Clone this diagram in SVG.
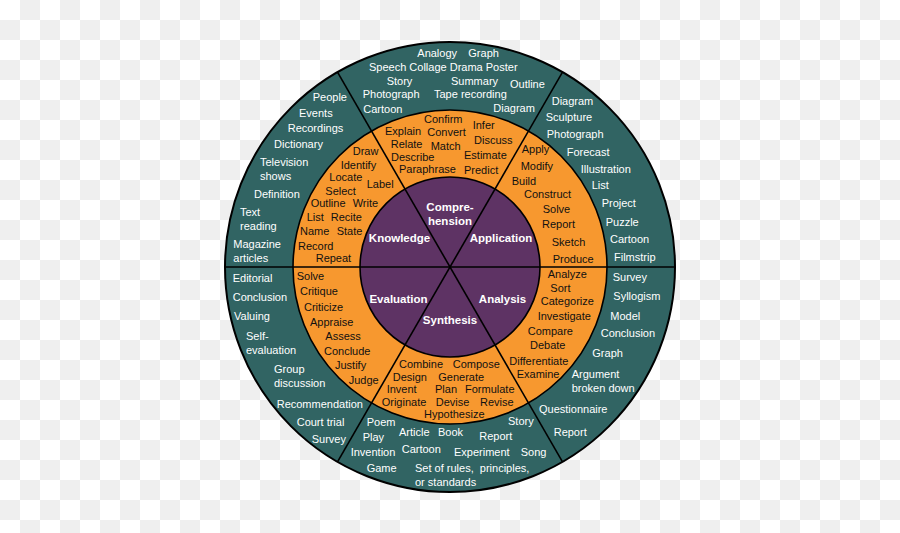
<svg xmlns="http://www.w3.org/2000/svg" width="900" height="533" viewBox="0 0 900 533">
<defs>
<pattern id="chk" width="40" height="40" patternUnits="userSpaceOnUse">
<rect width="40" height="40" fill="#ffffff"/>
<rect x="20" y="0" width="20" height="20" fill="#efefef"/>
<rect x="0" y="20" width="20" height="20" fill="#efefef"/>
</pattern>
<style>
text{font-family:"Liberation Sans",Arial,sans-serif;font-size:11px}
.w{fill:#ffffff}
.b{fill:#111111}
.h{fill:#ffffff;font-weight:bold;font-size:11.5px;text-anchor:middle}
.ln{stroke:#000;stroke-width:1.6;fill:none}
</style>
</defs>
<rect width="900" height="533" fill="url(#chk)"/>
<g id="rings">
<circle cx="450" cy="267" r="225" fill="#316463" stroke="#000" stroke-width="2"/>
<circle cx="450" cy="267" r="157" fill="#f7982f" stroke="#000" stroke-width="1.6"/>
<circle cx="450" cy="267" r="90" fill="#5e3364" stroke="#000" stroke-width="1.6"/>
</g>
<g id="connectors">
<line class="ln" x1="225" y1="267" x2="675" y2="267"/>
<line class="ln" x1="337.5" y1="72.1" x2="562.5" y2="461.9"/>
<line class="ln" x1="562.5" y1="72.1" x2="337.5" y2="461.9"/>
</g>
<g id="knowledge">
<text class="h" x="399.5" y="242">Knowledge</text>
<g class="b">
<text class="b" x="352.7" y="155">Draw</text>
<text class="b" x="340.7" y="169">Identify</text>
<text class="b" x="329.3" y="181">Locate</text>
<text class="b" x="366.7" y="188">Label</text>
<text class="b" x="325.3" y="195">Select</text>
<text class="b" x="310.7" y="207">Outline</text>
<text class="b" x="352.7" y="207">Write</text>
<text class="b" x="306.7" y="221">List</text>
<text class="b" x="330.7" y="221">Recite</text>
<text class="b" x="300" y="235">Name</text>
<text class="b" x="336.7" y="235">State</text>
<text class="b" x="298" y="250">Record</text>
<text class="b" x="315.7" y="262">Repeat</text>
</g>
<text class="w" x="312.7" y="101">People</text>
<text class="w" x="299" y="117">Events</text>
<text class="w" x="287.7" y="132">Recordings</text>
<text class="w" x="274" y="148">Dictionary</text>
<text class="w" x="260" y="166">Television</text>
<text class="w" x="260" y="180">shows</text>
<text class="w" x="254" y="198">Definition</text>
<text class="w" x="240" y="216">Text</text>
<text class="w" x="240" y="230">reading</text>
<text class="w" x="233.3" y="248">Magazine</text>
<text class="w" x="233.3" y="262">articles</text>
</g>
<g id="comprehension">
<text class="h" x="450" y="211">Compre-</text>
<text class="h" x="450" y="225">hension</text>
<text class="b" x="385" y="135">Explain</text>
<text class="b" x="390.7" y="148">Relate</text>
<text class="b" x="391" y="161">Describe</text>
<text class="b" x="399" y="173">Paraphrase</text>
<text class="b" x="424" y="123">Confirm</text>
<text class="b" x="427.3" y="136">Convert</text>
<text class="b" x="430.7" y="150">Match</text>
<text class="b" x="472.7" y="129">Infer</text>
<text class="b" x="474" y="144">Discuss</text>
<text class="b" x="464" y="159">Estimate</text>
<text class="b" x="464" y="174">Predict</text>
<text class="w" x="417.3" y="57">Analogy</text>
<text class="w" x="468.3" y="57">Graph</text>
<text class="w" x="369" y="71">Speech Collage Drama Poster</text>
<text class="w" x="386.7" y="85">Story</text>
<text class="w" x="451" y="85">Summary</text>
<text class="w" x="510" y="88">Outline</text>
<text class="w" x="362.7" y="98">Photograph</text>
<text class="w" x="434" y="98">Tape recording</text>
<text class="w" x="363.3" y="113">Cartoon</text>
<text class="w" x="493.3" y="112">Diagram</text>
</g>
<g id="application">
<text class="h" x="501" y="242">Application</text>
<text class="b" x="521.7" y="153">Apply</text>
<text class="b" x="520.7" y="170">Modify</text>
<text class="b" x="511.7" y="185">Build</text>
<text class="b" x="524" y="198">Construct</text>
<text class="b" x="542.7" y="213">Solve</text>
<text class="b" x="542" y="228">Report</text>
<text class="b" x="551.7" y="246">Sketch</text>
<text class="b" x="552.7" y="263">Produce</text>
<text class="w" x="551.7" y="105">Diagram</text>
<text class="w" x="545.7" y="121">Sculpture</text>
<text class="w" x="546.7" y="138">Photograph</text>
<text class="w" x="566.7" y="156">Forecast</text>
<text class="w" x="580.7" y="173">Illustration</text>
<text class="w" x="591.7" y="189">List</text>
<text class="w" x="601.7" y="207">Project</text>
<text class="w" x="605.7" y="226">Puzzle</text>
<text class="w" x="610" y="243">Cartoon</text>
<text class="w" x="614" y="261">Filmstrip</text>
</g>
<g id="evaluation">
<text class="h" x="398.5" y="303">Evaluation</text>
<text class="b" x="296.7" y="280">Solve</text>
<text class="b" x="300" y="295">Critique</text>
<text class="b" x="304" y="311">Criticize</text>
<text class="b" x="310" y="326">Appraise</text>
<text class="b" x="325.3" y="340">Assess</text>
<text class="b" x="324" y="355">Conclude</text>
<text class="b" x="335" y="369">Justify</text>
<text class="b" x="348.7" y="384">Judge</text>
<text class="w" x="232.7" y="282">Editorial</text>
<text class="w" x="232.7" y="301">Conclusion</text>
<text class="w" x="234" y="320">Valuing</text>
<text class="w" x="246" y="340">Self-</text>
<text class="w" x="246" y="354">evaluation</text>
<text class="w" x="274" y="373">Group</text>
<text class="w" x="274" y="387">discussion</text>
<text class="w" x="276.7" y="408">Recommendation</text>
<text class="w" x="296.7" y="426">Court trial</text>
<text class="w" x="311.7" y="443">Survey</text>
</g>
<g id="synthesis">
<text class="h" x="450" y="324">Synthesis</text>
<text class="b" x="399" y="368">Combine</text>
<text class="b" x="452.7" y="368">Compose</text>
<text class="b" x="392.7" y="381">Design</text>
<text class="b" x="438.3" y="381">Generate</text>
<text class="b" x="386.7" y="393">Invent</text>
<text class="b" x="435" y="393">Plan</text>
<text class="b" x="465" y="393">Formulate</text>
<text class="b" x="381.7" y="406">Originate</text>
<text class="b" x="435.7" y="406">Devise</text>
<text class="b" x="480" y="406">Revise</text>
<text class="b" x="424" y="418">Hypothesize</text>
<text class="w" x="366.7" y="426">Poem</text>
<text class="w" x="362.7" y="441">Play</text>
<text class="w" x="399" y="436">Article</text>
<text class="w" x="438" y="436">Book</text>
<text class="w" x="508" y="425">Story</text>
<text class="w" x="479.3" y="440">Report</text>
<text class="w" x="350.7" y="456">Invention</text>
<text class="w" x="401.7" y="453">Cartoon</text>
<text class="w" x="454" y="456">Experiment</text>
<text class="w" x="520.7" y="456">Song</text>
<text class="w" x="366.7" y="472">Game</text>
<text class="w" x="415" y="472" xml:space="preserve">Set of rules,  principles,</text>
<text class="w" x="415" y="486">or standards</text>
</g>
<g id="analysis">
<text class="h" x="502.5" y="303">Analysis</text>
<text class="b" x="547.7" y="278">Analyze</text>
<text class="b" x="550.3" y="292">Sort</text>
<text class="b" x="540.7" y="305">Categorize</text>
<text class="b" x="537.7" y="320">Investigate</text>
<text class="b" x="527.7" y="335">Compare</text>
<text class="b" x="530" y="349">Debate</text>
<text class="b" x="509.3" y="365">Differentiate</text>
<text class="b" x="516.7" y="378">Examine</text>
<text class="w" x="612.7" y="281">Survey</text>
<text class="w" x="613.3" y="300">Syllogism</text>
<text class="w" x="610.3" y="320">Model</text>
<text class="w" x="600.7" y="337">Conclusion</text>
<text class="w" x="592.3" y="357">Graph</text>
<text class="w" x="571.7" y="378">Argument</text>
<text class="w" x="571.7" y="392">broken down</text>
<text class="w" x="539" y="413">Questionnaire</text>
<text class="w" x="553.7" y="436">Report</text>
</g>
</svg>
